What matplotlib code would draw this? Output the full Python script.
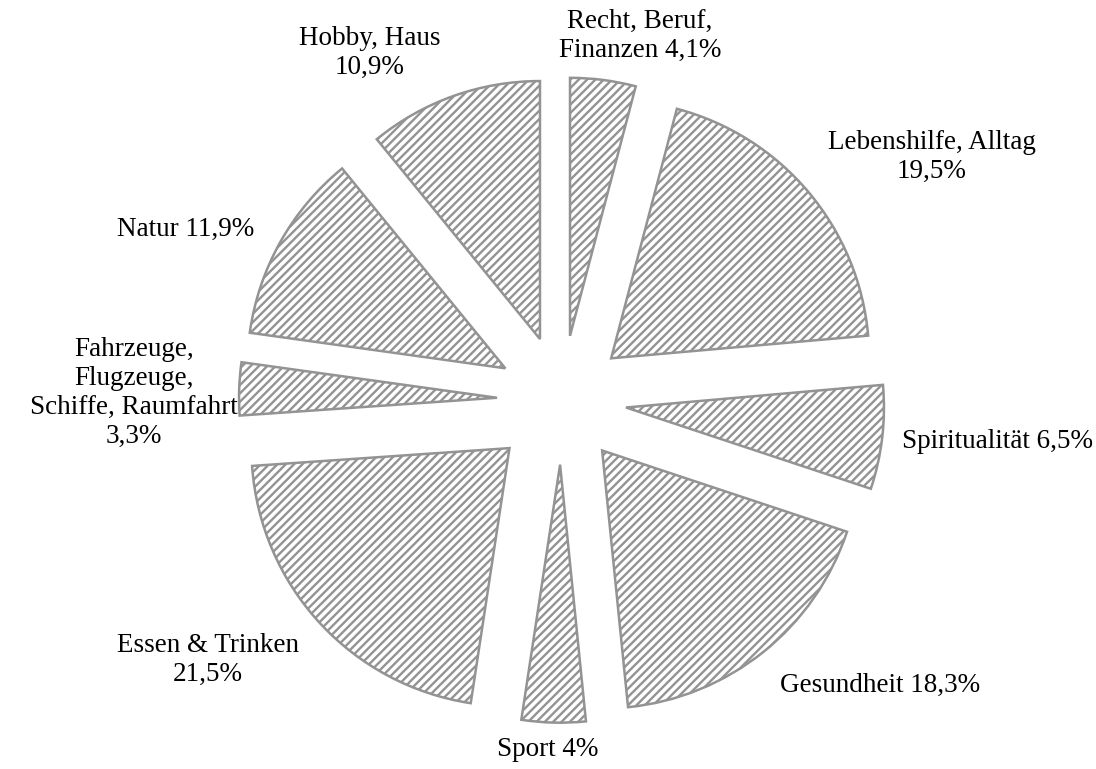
import matplotlib
matplotlib.use("Agg")
import matplotlib.pyplot as plt

categories = ["Recht, Beruf,\nFinanzen", "Lebenshilfe, Alltag\n", "Spiritualität", "Gesundheit",
              "Sport", "Essen & Trinken\n", "Fahrzeuge,\nFlugzeuge,\nSchiffe, Raumfahrt\n",
              "Natur", "Hobby, Haus\n"]
values = [4.1, 19.5, 6.5, 18.3, 4.0, 21.5, 3.3, 11.9, 10.9]
value_labels = ["4,1%", "19,5%", "6,5%", "18,3%", "4%", "21,5%", "3,3%", "11,9%", "10,9%"]

# label centre positions in pixel coordinates (x, y from top)
label_pos = [(640, 36), (932, 157), (998, 442), (880, 685), (548, 750),
             (208, 660), (134, 393), (186, 229), (370, 53)]
explode_px = [64.7, 64.7, 64.7, 64.7, 64.7, 71.0, 64.7, 64.7, 64.7]

W, H = 1096, 769
plt.rcParams['hatch.linewidth'] = 1.7
plt.rcParams['hatch.color'] = '#8e8e8e'

fig = plt.figure(figsize=(W / 100, H / 100), dpi=100)
ax = fig.add_axes([0, 0, 1, 1])

edge = '#939393'
wedges, _ = ax.pie(values, startangle=90, counterclock=False,
                   center=(561.7, H - 400), radius=258,
                   explode=explode_px,
                   colors=['white'] * len(values),
                   wedgeprops=dict(edgecolor=edge, linewidth=1.8, hatch='////'),
                   frame=True)
ax.set_xlim(0, W)
ax.set_ylim(0, H)
ax.set_aspect("equal")
ax.axis("off")

for cat, vl, (px, py) in zip(categories, value_labels, label_pos):
    if cat.endswith("\n"):
        txt = cat + vl
    else:
        txt = cat + " " + vl
    ax.text(px, H - py, txt, ha='center', va='center', fontsize=19.5,
            family='Liberation Serif', color='black', linespacing=1.2)

fig.savefig("out.png", dpi=100)
